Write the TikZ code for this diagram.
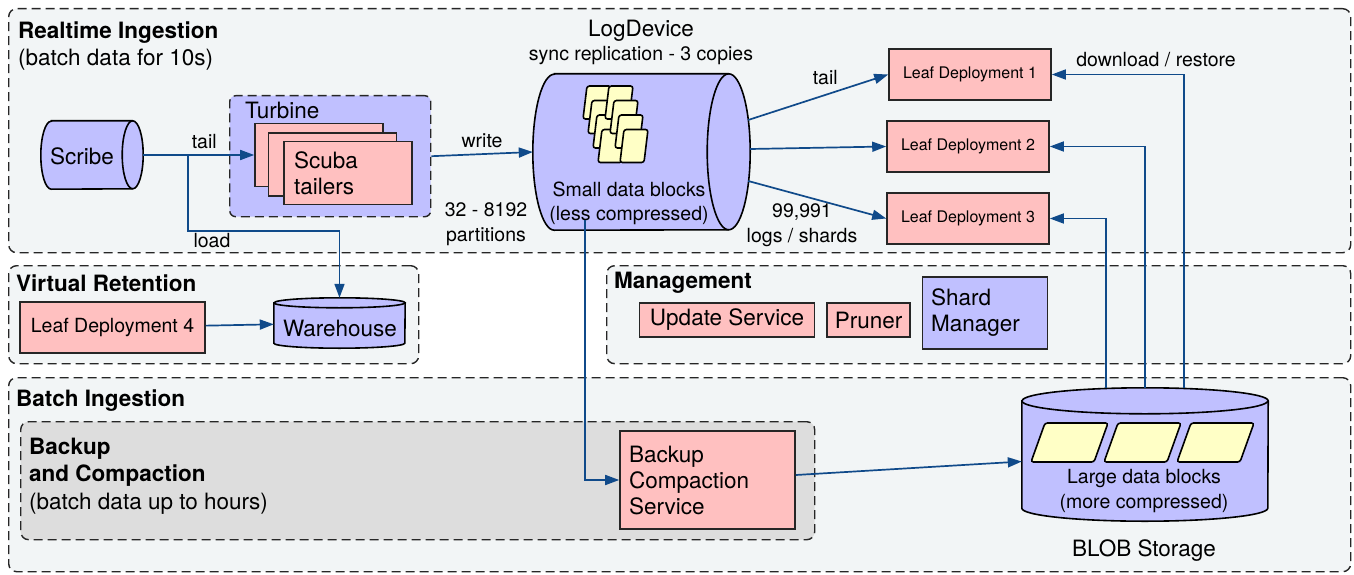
\documentclass[tikz,border=0pt]{standalone}
\usepackage{fontspec}
\setmainfont{TeX Gyre Heros}
\usetikzlibrary{arrows.meta,calc}
\definecolor{lav}{RGB}{192,192,255}
\definecolor{pinkbox}{RGB}{255,192,192}
\definecolor{cardyellow}{RGB}{255,255,198}
\definecolor{groupbg}{RGB}{242,245,246}
\definecolor{backupgray}{RGB}{221,221,221}
\definecolor{arrowblue}{RGB}{16,74,138}
\newcommand{\mainsize}{\fontsize{22.5}{26}\selectfont}
\newcommand{\lblsize}{\fontsize{19.5}{25}\selectfont}
\newcommand{\leafsize}{\fontsize{16}{19}\selectfont}

\begin{document}
\begin{tikzpicture}[x=1pt, y=-1pt, font=\mainsize]
  \tikzstyle{group} = [draw=black!85, line width=1.4pt, dash pattern=on 9pt off 5pt, rounded corners=8pt, fill=groupbg, anchor=north west, inner sep=0pt]
  \tikzstyle{title} = [anchor=west, inner sep=0pt, yshift=-2pt, font=\mainsize\bfseries]
  \tikzstyle{note} = [anchor=west, inner sep=0pt, yshift=-2pt]
  \tikzstyle{pbox} = [draw=black!85, line width=1.6pt, fill=pinkbox, inner sep=0pt]
  \tikzstyle{bbox} = [draw=black!85, line width=1.6pt, fill=lav, inner sep=0pt]
  \tikzstyle{leaf} = [pbox, minimum width=162pt, minimum height=51pt, font=\leafsize]
  \tikzstyle{lbl} = [font=\lblsize, align=center, inner sep=0pt]
  \tikzstyle{store} = [inner sep=0pt]
  \tikzstyle{cyl} = [draw=black, line width=1.6pt, fill=lav]
  \tikzstyle{card} = [draw=black, line width=1.6pt, fill=cardyellow, rounded corners=2.5pt]
  \tikzstyle{flow} = [draw=arrowblue, line width=1.7pt, -{Triangle[length=14pt, width=10pt]}]

  \useasboundingbox (0,0) rectangle (1354,575);

  % groups
  \node[group, minimum width=1342pt, minimum height=244pt] (realtime) at (8,8) {};
  \node[group, minimum width=410pt, minimum height=98pt] (retention) at (8,265) {};
  \node[group, minimum width=744pt, minimum height=98pt] (management) at (606,265) {};
  \node[group, minimum width=1342pt, minimum height=194pt] (batch) at (8,377) {};
  \node[group, fill=backupgray, minimum width=794pt, minimum height=118pt] (backup) at (20,421) {};
  \node[group, fill=lav, rounded corners=6pt, minimum width=201pt, minimum height=121pt] (turbine) at (229,95) {};

  \node[title] at (18,31) {Realtime Ingestion};
  \node[note] at (18,58) {(batch data for 10s)};
  \node[title] at (16,281) {Virtual Retention};
  \node[title] at (614,281) {Management};
  \node[title] at (16,399) {Batch Ingestion};
  \node[title] at (29,447) {Backup};
  \node[title] at (29,474) {and Compaction};
  \node[note] at (29,502) {(batch data up to hours)};
  \node[note] at (245,108) {Turbine};

  % realtime ingestion
  \node[store, minimum width=102pt, minimum height=68pt] (scribe) at (92,155) {};
  \draw[cyl] ([xshift=10.5pt]scribe.north west) -- ([xshift=-10.5pt]scribe.north east)
    arc[start angle=90, end angle=-90, x radius=10.5pt, y radius=34pt]
    -- ([xshift=10.5pt]scribe.south west)
    arc[start angle=270, end angle=90, x radius=10.5pt, y radius=34pt] -- cycle;
  \draw[cyl, fill=none] ([xshift=-10.5pt]scribe.north east) arc[start angle=90, end angle=270, x radius=10.5pt, y radius=34pt];
  \node at (82,156) {Scribe};

  \node[pbox, minimum width=128pt, minimum height=63pt] (scuba1) at (319,155) {};
  \node[pbox, minimum width=128pt, minimum height=63pt] (scuba2) at (332.5,164.5) {};
  \node[pbox, minimum width=128pt, minimum height=63pt, text width=108pt, align=left] (scuba3) at (348,173) {Scuba\\tailers};

  \node[store, minimum width=217pt, minimum height=156pt] (logdevice) at (641.5,152) {};
  \draw[cyl] ([xshift=21.5pt]logdevice.north west) -- ([xshift=-21.5pt]logdevice.north east)
    arc[start angle=90, end angle=-90, x radius=21.5pt, y radius=78pt]
    -- ([xshift=21.5pt]logdevice.south west)
    arc[start angle=270, end angle=90, x radius=21.5pt, y radius=78pt] -- cycle;
  \draw[cyl, fill=none] ([xshift=-21.5pt]logdevice.north east) arc[start angle=90, end angle=270, x radius=21.5pt, y radius=78pt];
  \node[inner sep=0pt] at (641,31) {LogDevice};
  \node[lbl] at (641,56) {sync replication - 3 copies};
  \foreach \c in {0,1}
    \foreach \r in {0,...,3}
      \draw[card] ({587+22*\c+5*\r},{86+14.5*\r}) -- ++(24,0) -- ++(-4,33) -- ++(-24,0) -- cycle;
  \node[lbl, font=\fontsize{19.5}{24}\selectfont] at (629,203) {Small data blocks\\(less compressed)};

  \node[leaf] (leaf1) at (970,74.5) {Leaf Deployment 1};
  \node[leaf] (leaf2) at (968,146.5) {Leaf Deployment 2};
  \node[leaf] (leaf3) at (968,218.5) {Leaf Deployment 3};

  % virtual retention
  \node[pbox, minimum width=185pt, minimum height=51pt, font=\lblsize] (leaf4) at (112.5,327.5) {Leaf Deployment 4};
  \node[store, minimum width=131pt, minimum height=50pt] (warehouse) at (339.5,323) {};
  \draw[cyl] ([yshift=-5pt]warehouse.north west) -- ([yshift=5pt]warehouse.south west)
    arc[start angle=180, end angle=360, x radius=65.5pt, y radius=5pt]
    -- ([yshift=-5pt]warehouse.north east)
    arc[start angle=0, end angle=180, x radius=65.5pt, y radius=5pt] -- cycle;
  \draw[cyl, fill=none] ([yshift=-5pt]warehouse.north west) arc[start angle=180, end angle=360, x radius=65.5pt, y radius=5pt];
  \node at (340,328) {Warehouse};

  % management
  \node[pbox, minimum width=175pt, minimum height=34pt] (update) at (727,320) {Update Service};
  \node[pbox, minimum width=83pt, minimum height=34pt] (pruner) at (868.5,320) {Pruner};
  \node[bbox, minimum width=125pt, minimum height=72pt, text width=108pt, align=left] (shard) at (985,313) {Shard\\Manager};

  % batch ingestion
  \node[pbox, minimum width=175pt, minimum height=98pt, text width=157pt, align=left] (compaction) at (707.5,480) {Backup\\Compaction\\Service};
  \node[store, minimum width=246pt, minimum height=133pt] (blob) at (1145,454.5) {};
  \draw[cyl] ([yshift=-13pt]blob.north west) -- ([yshift=13pt]blob.south west)
    arc[start angle=180, end angle=360, x radius=123pt, y radius=13pt]
    -- ([yshift=-13pt]blob.north east)
    arc[start angle=0, end angle=180, x radius=123pt, y radius=13pt] -- cycle;
  \draw[cyl, fill=none] ([yshift=-13pt]blob.north west) arc[start angle=180, end angle=360, x radius=123pt, y radius=13pt];
  \foreach \i in {0,1,2}
    \draw[card] ({1045+73*\i},423) -- ++(63,0) -- ++(-14,39) -- ++(-63,0) -- cycle;
  \node[lbl] at (1144,491) {Large data blocks\\(more compressed)};
  \node[inner sep=0pt] at (1144,551) {BLOB Storage};

  % connectors
  \coordinate (split) at (188,155);
  \draw[flow] (scribe.east) -- node[lbl, above=5pt, pos=0.55] {tail} (scuba1.west);
  \draw[flow] (split) -- ++(0,76) -| (warehouse.north);
  \node[lbl] at (212,241) {load};
  \draw[flow] (turbine.east) -- node[lbl, above=5pt] {write} (logdevice.west);
  \node[lbl] at (486,224) {32 - 8192\\partitions};

  \draw[flow] ($(logdevice.east)+(-2,-32)$) -- node[lbl, above=9pt, pos=0.55] {tail} (leaf1.west);
  \draw[flow] ($(logdevice.east)+(0,-3)$) -- (leaf2.west);
  \draw[flow] ($(logdevice.east)+(-2,29)$) -- (leaf3.west);
  \node[lbl] at (802,225) {99,991\\logs / shards};

  \draw[flow] ($(blob.north)+(39,0)$) |- (leaf1);
  \draw[flow] (blob.north) |- (leaf2);
  \draw[flow] ($(blob.north)+(-39,0)$) |- (leaf3);
  \node[lbl] at (1156,60) {download / restore};

  \draw[flow] (leaf4) -- (warehouse);
  \draw[flow] ($(logdevice.south)+(-56.5,-10)$) |- (compaction);
  \draw[flow] ($(compaction.east)+(0,-5)$) -- ($(blob.west)+(0,7)$);
\end{tikzpicture}
\end{document}
